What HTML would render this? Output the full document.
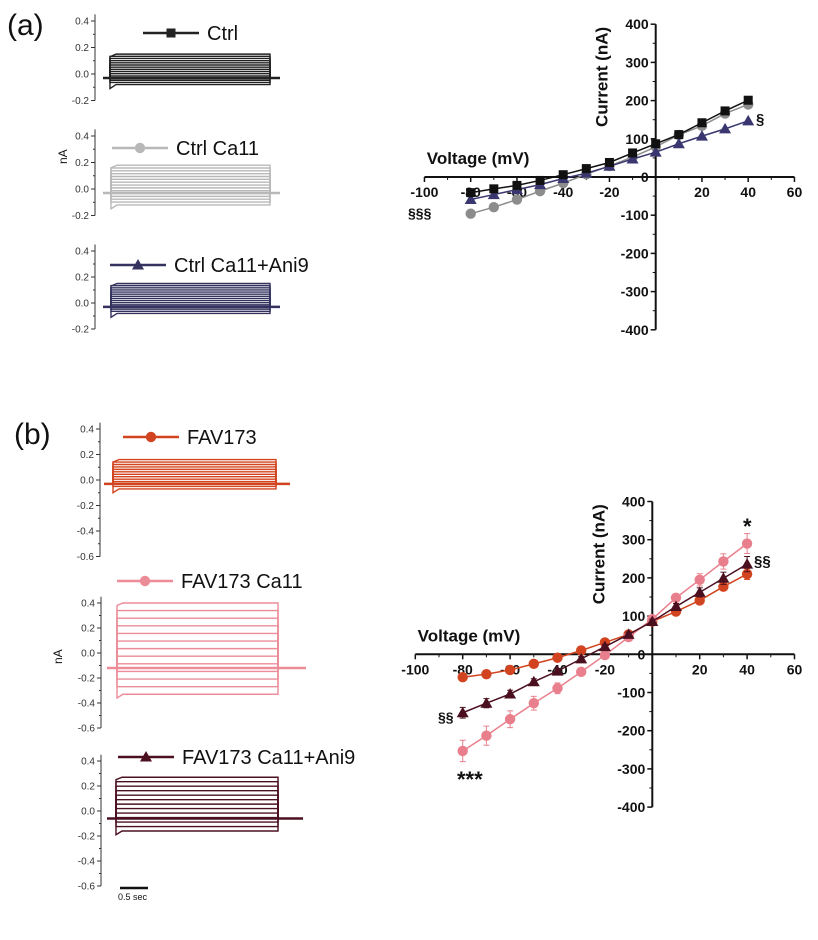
<!DOCTYPE html>
<html><head><meta charset="utf-8"><style>
body{margin:0;background:#fff}
svg{display:block;font-family:"Liberation Sans",Arial,sans-serif}
</style></head><body>
<svg id="fig" width="818" height="940" viewBox="0 0 818 940"></svg>
<script>
const voltages=[-80,-70,-60,-50,-40,-30,-20,-10,0,10,20,30,40];
const xTicks=[-100,-80,-60,-40,-20,0,20,40,60];
const yTicks=[400,300,200,100,0,-100,-200,-300,-400];
const ctrl=[-41,-31,-22,-9,6,22,38,63,87,111,142,173,201];
const ctrlCa11=[-96,-79,-59,-37,-16,7,29,52,79,110,134,166,190];
const ctrlAni9=[-59,-46,-33,-20,-4,10,28,47,65,87,107,126,147];
const fav=[-60,-52,-41,-25,-9,10,31,52,86,112,141,177,210];
const favCa11=[-253,-213,-170,-128,-89,-46,-2,45,92,148,195,243,290];
const favAni9=[-153,-128,-104,-72,-44,-12,20,52,86,125,162,199,236];
const favErr=[6,5,5,5,5,5,5,5,5,6,8,10,14];
const favCa11Err=[28,25,22,18,14,10,8,8,8,10,16,20,26];
const favAni9Err=[14,12,10,8,7,6,6,6,6,8,12,16,20];
const traceTicks=[0.4,0.2,0.0,-0.2,-0.4,-0.6];

const NS="http://www.w3.org/2000/svg";
const svg=document.getElementById('fig');
function el(tag,attrs,parent,text){const e=document.createElementNS(NS,tag);for(const k in attrs)e.setAttribute(k,attrs[k]);if(text!==undefined)e.textContent=text;(parent||svg).appendChild(e);return e;}

function marker(g,shape,x,y,col){
  let m;
  if(shape==='sq'){m=el('rect',{x:x-4.5,y:y-4.5,width:9,height:9,fill:col},g);}
  else if(shape==='ci'){m=el('circle',{cx:x,cy:y,r:5.2,fill:col},g);}
  else {m=el('polygon',{points:`${x},${y-6} ${x-6},${y+4.5} ${x+6},${y+4.5}`,fill:col},g);}
  
  
}

function ivChart(name,ox,oy,pxX,pxY,series){
  const g=el('g',{},svg);
  
  
  const X=v=>ox+v*pxX, Y=v=>oy-v*pxY;
  const xa=el('line',{x1:X(-100),y1:oy,x2:X(60),y2:oy,stroke:'#111','stroke-width':2},g);
  
  const ya=el('line',{x1:ox,y1:Y(400),x2:ox,y2:Y(-400),stroke:'#111','stroke-width':2},g);
  
  xTicks.forEach(t=>{
    el('line',{x1:X(t),y1:oy,x2:X(t),y2:oy+5,stroke:'#111','stroke-width':1.5},g);
    if(t<60)el('line',{x1:X(t+10),y1:oy,x2:X(t+10),y2:oy+3,stroke:'#111','stroke-width':1},g);
    if(t!==0){const tl=el('text',{x:X(t),y:oy+20,'text-anchor':'middle','font-size':14,'font-weight':'bold',fill:'#111'},g,String(t));
    }
  });
  yTicks.forEach(t=>{
    el('line',{x1:ox-5,y1:Y(t),x2:ox,y2:Y(t),stroke:'#111','stroke-width':1.5},g);
    if(t>-400)el('line',{x1:ox-3,y1:Y(t-50),x2:ox,y2:Y(t-50),stroke:'#111','stroke-width':1},g);
    const tl=el('text',{x:ox-7,y:Y(t)+5,'text-anchor':'end','font-size':14,'font-weight':'bold',fill:'#111'},g,String(t));
    
  });
  const xt=el('text',{x:X(-99),y:oy-13,'font-size':17,'font-weight':'bold',fill:'#111'},g,'Voltage (mV)');
  
  const yt=el('text',{x:0,y:0,'font-size':17,'font-weight':'bold',fill:'#111','text-anchor':'middle',transform:`translate(${ox-48},${Y(262)}) rotate(-90)`},g,'Current (nA)');
  
  series.forEach(s=>{
    const sg=el('g',{},g);
    
    
    const pts=voltages.map((v,i)=>`${X(v)},${Y(s.vals[i])}`).join(' ');
    el('polyline',{points:pts,fill:'none',stroke:s.col,'stroke-width':1.5},sg);
    if(s.err){voltages.forEach((v,i)=>{
      const x=X(v),y1=Y(s.vals[i]+s.err[i]),y2=Y(s.vals[i]-s.err[i]);
      el('line',{x1:x,y1:y1,x2:x,y2:y2,stroke:s.col,'stroke-width':1},sg);
      el('line',{x1:x-3,y1:y1,x2:x+3,y2:y1,stroke:s.col,'stroke-width':1},sg);
      el('line',{x1:x-3,y1:y2,x2:x+3,y2:y2,stroke:s.col,'stroke-width':1},sg);
    });}
    voltages.forEach((v,i)=>marker(sg,s.shape,X(v),Y(s.vals[i]),s.col));
  });
  return {X,Y};
}

const A=ivChart('iv-chart-a',655.7,177,2.3125,0.382,[
  {name:'series-ctrl-ca11',vals:ctrlCa11,col:'#8c8c8c',shape:'ci'},
  {name:'series-ctrl-ani9',vals:ctrlAni9,col:'#3a3670',shape:'tr'},
  {name:'series-ctrl',vals:ctrl,col:'#111',shape:'sq'}]);
const B=ivChart('iv-chart-b',652.3,654.3,2.37,0.382,[
  {name:'series-fav173',vals:fav,err:favErr,col:'#d2441f',shape:'ci'},
  {name:'series-fav173-ca11',vals:favCa11,err:favCa11Err,col:'#e97f8c',shape:'ci'},
  {name:'series-fav173-ani9',vals:favAni9,err:favAni9Err,col:'#4b1020',shape:'tr'}]);

function ann(x,y,t,sz,name){const a=el('text',{x:x,y:y,'font-size':sz,'font-weight':'bold',fill:'#111'},svg,t);
}
ann(756,124,'§',15,'annotation-section-a');
ann(408,218,'§§§',14,'annotation-section3-a');
ann(743,534,'*',22,'annotation-star-b');
ann(754,566,'§§',15,'annotation-section2-b-right');
ann(438,722,'§§',14,'annotation-section2-b-left');
ann(457,787,'***',22,'annotation-star3-b');

function tracePanel(name,ax,y04,y00,ymin,x0,x1,top,bot,base,col,n,legend,shape,lx,ly,bx0,bx1){
  const g=el('g',{},svg);
  
  
  const s=(y00-y04)/0.4;
  const Y=v=>y00-v*s;
  const ya=el('line',{x1:ax,y1:Y(0.45),x2:ax,y2:Y(ymin),stroke:'#333','stroke-width':1},g);
  
  traceTicks.filter(t=>t>=ymin-0.001).forEach(t=>{
    el('line',{x1:ax-4,y1:Y(t),x2:ax,y2:Y(t),stroke:'#333','stroke-width':1},g);
    if(t-0.1>=ymin-0.001)el('line',{x1:ax-2,y1:Y(t-0.1),x2:ax,y2:Y(t-0.1),stroke:'#333','stroke-width':1},g);
    const tl=el('text',{x:ax-6,y:Y(t)+3.5,'text-anchor':'end','font-size':10,fill:'#333'},g,t.toFixed(1));
    
  });
  for(let i=0;i<n;i++){
    const v=bot+(top-bot)*i/(n-1);
    const y=Y(v);
    el('polyline',{points:`${x0},${Y(base)} ${x0},${Y(i===0?v-0.03:v+(i===n-1?-0.02:0))} ${x0+6},${y} ${x1},${y} ${x1},${Y(base)}`,fill:'none',stroke:col,'stroke-width':1.4},g);
  }
  el('line',{x1:bx0,y1:Y(base),x2:bx1,y2:Y(base),stroke:col,'stroke-width':2.5},g);
  const lg=el('g',{},g);
  
  
  el('line',{x1:lx,y1:ly,x2:lx+56,y2:ly,stroke:col,'stroke-width':2.5},lg);
  marker(lg,shape,lx+28,ly,col);
  el('text',{x:lx+64,y:ly+7,'font-size':20,fill:'#111'},lg,legend);
}
tracePanel('trace-panel-ctrl',95,21,74,-0.2,110,270,0.15,-0.08,-0.03,'#222',15,'Ctrl','sq',143,33,103,280);
tracePanel('trace-panel-ctrl-ca11',95,136,189,-0.2,111,270,0.18,-0.12,-0.03,'#b8b8b8',15,'Ctrl Ca11','ci',112,148,103,280);
tracePanel('trace-panel-ctrl-ani9',95,251,303,-0.2,111,270,0.15,-0.08,-0.03,'#35325f',15,'Ctrl Ca11+Ani9','tr',110,265,103,280);
tracePanel('trace-panel-fav173',100,429,480,-0.6,113,276,0.16,-0.07,-0.03,'#d2441f',13,'FAV173','ci',123,437,104,290);
tracePanel('trace-panel-fav173-ca11',101,603,653,-0.6,117,278,0.4,-0.33,-0.12,'#ec8c98',13,'FAV173 Ca11','ci',117,581,107,306);
tracePanel('trace-panel-fav173-ani9',101,761,811,-0.6,116,278,0.27,-0.16,-0.06,'#4b1020',13,'FAV173 Ca11+Ani9','tr',118,757,107,303);

function lab(x,y,t,sz,name,extra){const a=el('text',Object.assign({x:x,y:y,'font-size':sz,fill:'#111'},extra||{}),svg,t);
}
lab(7,35,'(a)',30,'panel-label-a');
lab(14,444,'(b)',30,'panel-label-b');
lab(0,0,'nA',12,'trace-y-title-a',{transform:'translate(67,164) rotate(-90)'});
lab(0,0,'nA',12,'trace-y-title-b',{transform:'translate(62,664) rotate(-90)'});
const sb=el('line',{x1:120,y1:888,x2:148,y2:888,stroke:'#111','stroke-width':2.5});

lab(118,900,'0.5 sec',9,'scale-bar-label');
</script>
</body></html>
